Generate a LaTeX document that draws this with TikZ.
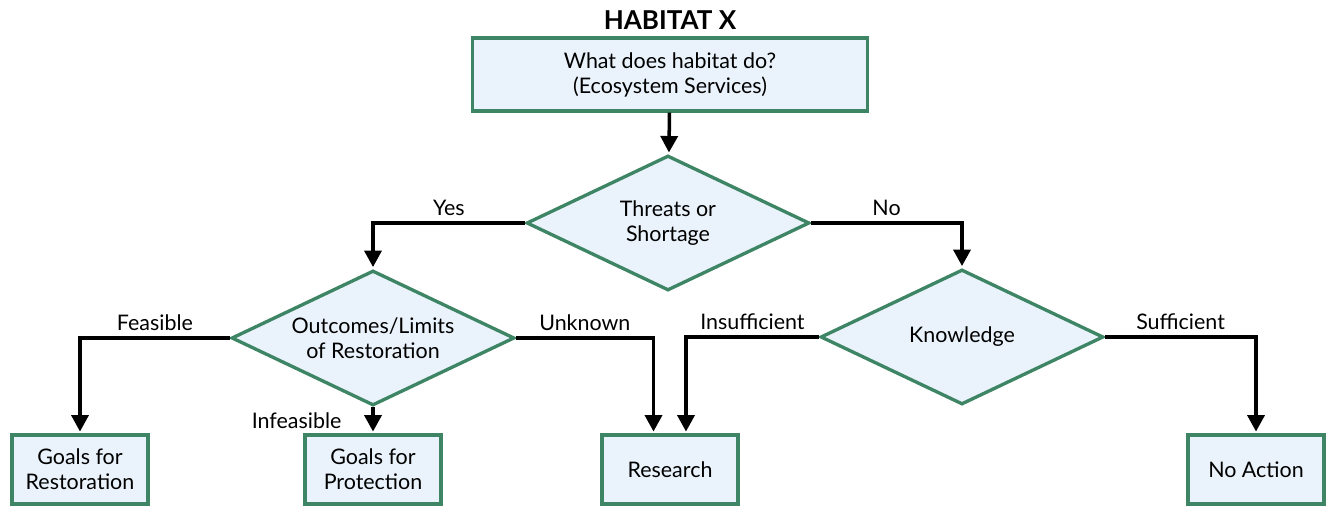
\documentclass[tikz,border=0pt]{standalone}
\usepackage{fontspec}
\setmainfont{Lato}
\usetikzlibrary{arrows.meta,shapes.geometric}
\definecolor{G4}{RGB}{61,133,100}
\definecolor{B4}{RGB}{234,243,251}

\begin{document}
\begin{tikzpicture}[x=0.02cm, y=-0.02cm,
    font=\fontsize{12.2}{14.2}\selectfont,
    box/.style={draw=G4, fill=B4, line width=1.9pt, align=center, inner sep=0pt},
    choice/.style={diamond, draw=G4, fill=B4, line width=1.9pt, align=center, inner sep=0pt,
                   aspect=2.1, minimum width=5.66cm, minimum height=2.7cm},
    arr/.style={line width=2pt, shorten >=1pt, -{Triangle[length=0.33cm, width=0.34cm]}}]
  \useasboundingbox (0,0) rectangle (1328,506);
  \node (title) at (670,20) {\bfseries\fontsize{14.8}{15}\selectfont HABITAT X};
  \node[box, minimum width=7.9cm, minimum height=1.46cm] (what) at (670,74.5) {What does habitat do?\\(Ecosystem Services)};
  \node[choice] (threat) at (668,223) {Threats or\\Shortage};
  \node[choice] (limits) at (373,338) {Outcomes/Limits\\of Restoration};
  \node[choice] (know) at (962,337) {Knowledge};
  % end points
  \node[box, minimum width=2.72cm, minimum height=1.38cm] (restore) at (80,469.5) {Goals for\\Restoration};
  \node[box, minimum width=2.72cm, minimum height=1.38cm] (protect) at (373,469.5) {Goals for\\Protection};
  \node[box, minimum width=2.72cm, minimum height=1.38cm] (research) at (670,469.5) {Research};
  \node[box, minimum width=2.72cm, minimum height=1.38cm] (noact) at (1256,469.5) {No Action};
  \draw[arr] (what) -- (threat);
  \draw[arr] (threat.west) -| (limits.north) node[pos=0.25, above]{Yes};
  \draw[arr] (threat.east) -| (know.north) node[pos=0.25, above]{No};
  \draw[arr] (limits.west) -| (restore.north) node[pos=0.25, above]{Feasible};
  \draw[arr] (limits.south) -- (protect.north) node[midway, left=0.48cm]{Infeasible};
  \draw[arr] (limits.east) -| ([xshift=-0.33cm]research.north) node[pos=0.25, above]{Unknown};
  \draw[arr] (know.west) -| ([xshift=0.32cm]research.north) node[pos=0.25, above]{Insufficient};
  \draw[arr] (know.east) -| (noact.north) node[pos=0.25, above]{Sufficient};
\end{tikzpicture}
\end{document}
